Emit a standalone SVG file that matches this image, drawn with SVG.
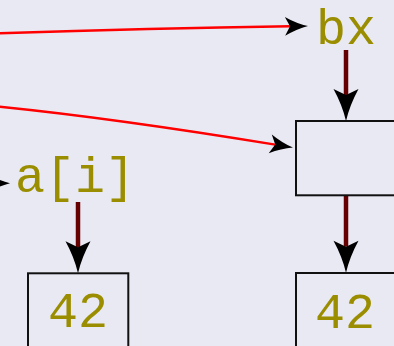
<svg xmlns="http://www.w3.org/2000/svg" width="394" height="346" viewBox="0 0 394 346">
  <style>
    .lbl { font-family: "Liberation Mono", "Courier New", monospace; font-size: 50px; fill: #9a8e00; text-anchor: middle; }
    .box { fill: none; stroke: #111111; stroke-width: 2; }
    .ref { fill: none; stroke: #ff0000; stroke-width: 2.4; }
    .bind { fill: none; stroke: #660000; stroke-width: 4.5; }
  </style>
  <defs>
    <!-- stealth-style heads; the path ends at the notch, the tip runs past it -->
    <marker id="head-sm" markerUnits="userSpaceOnUse" markerWidth="24" markerHeight="20" viewBox="0 -10 24 20" refX="5" refY="0" orient="auto" overflow="visible">
      <path d="M23,0 Q11.5,2.85 0,9.5 L5,0 L0,-9.5 Q11.5,-2.85 23,0 Z" fill="#000"/>
    </marker>
    <marker id="head-lg" markerUnits="userSpaceOnUse" markerWidth="33" markerHeight="26" viewBox="0 -13 33 26" refX="6" refY="0" orient="auto" overflow="visible">
      <path d="M32,0 Q16,3.75 0,12.5 L6,0 L0,-12.5 Q16,-3.75 32,0 Z" fill="#000"/>
    </marker>
  </defs>

  <rect x="0" y="0" width="394" height="346" fill="#e9e9f4"/>

  <g id="connectors">
    <!-- references coming in from the left -->
    <path class="ref" d="M-4,33.4 Q149,28.4 290,26.3" marker-end="url(#head-sm)"/>
    <path class="ref" d="M-4,106.3 Q112,117.9 275.2,144.6" marker-end="url(#head-sm)"/>
    <!-- incoming edge to a[i], only its tip shows -->
    <path class="ref" d="M-40,183.3 L-8,183.3" stroke="none" marker-end="url(#head-sm)"/>
    <!-- name to storage bindings -->
    <path class="bind" d="M346,50 L346,95" marker-end="url(#head-lg)"/>
    <path class="bind" d="M346,195 L346,246.7" marker-end="url(#head-lg)"/>
    <path class="bind" d="M78,202 L78,247.3" marker-end="url(#head-lg)"/>
  </g>

  <g id="node-bx">
    <text class="lbl" x="346" y="43.5">bx</text>
  </g>
  <g id="node-bx-cell">
    <rect class="box" x="296" y="121" width="120" height="74.3"/>
  </g>
  <g id="node-bx-value">
    <rect class="box" x="296" y="273" width="120" height="100"/>
    <text class="lbl" x="345" y="328">42</text>
  </g>
  <g id="node-ai">
    <text class="lbl" x="75" y="191.7">a[i]</text>
  </g>
  <g id="node-ai-value">
    <rect class="box" x="28" y="273.3" width="100.3" height="100"/>
    <text class="lbl" x="78" y="326.7">42</text>
  </g>
</svg>
